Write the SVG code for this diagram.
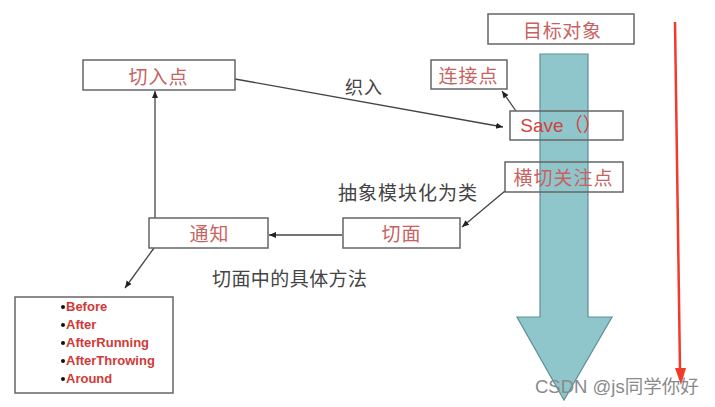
<svg xmlns="http://www.w3.org/2000/svg" width="715" height="407" viewBox="0 0 715 407">
<style>
.box{fill:none;stroke:#666;stroke-width:1.5}
.lbl{font-family:"Noto Sans CJK SC","Liberation Sans",sans-serif;font-size:19px;fill:#c8625e;text-anchor:middle;dominant-baseline:central}
.note{font-family:"Noto Sans CJK SC","Liberation Sans",sans-serif;font-size:19px;fill:#444;dominant-baseline:central}
.item{font-family:"Liberation Sans",Arial,sans-serif;font-size:13px;font-weight:bold;fill:#d03a36}
.conn{fill:none;stroke:#444;stroke-width:1.3}
</style>
<defs>
<marker id="ah" markerWidth="8" markerHeight="8" refX="7" refY="4" orient="auto" markerUnits="userSpaceOnUse">
<path d="M0,1 L7,4 L0,7 z" fill="#222"/>
</marker>
</defs>
<rect width="715" height="407" fill="#fff"/>

<g id="bigarrow">
<path d="M540,54 L588,54 L588,317 L612,317 L564,400 L517,317 L540,317 Z" fill="#8fc6cc" stroke="#5f8f94" stroke-width="1.2"/>
</g>

<g id="redarrow">
<line x1="675" y1="22" x2="680" y2="370" stroke="#f23a2a" stroke-width="2.5"/>
<path d="M675,368 L681,385 L686,368 Z" fill="#f23a2a"/>
</g>

<g id="connectors">
<line class="conn" x1="155" y1="218" x2="155" y2="91" marker-end="url(#ah)"/>
<line class="conn" x1="235" y1="79" x2="503" y2="127" marker-end="url(#ah)"/>
<line class="conn" x1="516" y1="111" x2="502" y2="91" marker-end="url(#ah)"/>
<line class="conn" x1="505" y1="191" x2="462" y2="227" marker-end="url(#ah)"/>
<line class="conn" x1="342" y1="235" x2="269" y2="235" marker-end="url(#ah)"/>
<line class="conn" x1="154" y1="248" x2="125" y2="288" marker-end="url(#ah)"/>
</g>

<g id="target">
<rect class="box" x="488" y="14" width="146" height="30"/>
<text class="lbl" x="562" y="29" textLength="78">目标对象</text>
</g>
<g id="joinpoint">
<rect class="box" x="431" y="60" width="76" height="29"/>
<text class="lbl" x="468" y="74" textLength="59">连接点</text>
</g>
<g id="pointcut">
<rect class="box" x="83" y="60" width="152" height="30"/>
<text class="lbl" x="158" y="75" textLength="59">切入点</text>
</g>
<g id="save">
<rect class="box" x="510" y="111" width="113" height="29"/>
<text class="lbl" x="561" y="125" style="font-family:'Liberation Sans','Noto Sans CJK SC',sans-serif;font-size:19px;fill:#d0433e">Save（）</text>
</g>
<g id="concern">
<rect class="box" x="505" y="162" width="118" height="30"/>
<text class="lbl" x="563" y="176" textLength="99">横切关注点</text>
</g>
<g id="aspect">
<rect class="box" x="343" y="218" width="117" height="30"/>
<text class="lbl" x="401" y="232" textLength="39">切面</text>
</g>
<g id="advice">
<rect class="box" x="149" y="218" width="119" height="30"/>
<text class="lbl" x="209" y="232" textLength="39">通知</text>
</g>
<g id="advicelist">
<rect class="box" x="15" y="297" width="158" height="96"/>
<g fill="#111">
<circle cx="63" cy="307" r="2"/><circle cx="63" cy="325" r="2"/><circle cx="63" cy="343" r="2"/><circle cx="63" cy="361" r="2"/><circle cx="63" cy="379" r="2"/>
</g>
<text class="item" x="66" y="311">Before</text>
<text class="item" x="66" y="329">After</text>
<text class="item" x="66" y="347">AfterRunning</text>
<text class="item" x="66" y="365">AfterThrowing</text>
<text class="item" x="66" y="383">Around</text>
</g>

<g id="labels">
<text class="note" x="345" y="86" style="font-size:18px" textLength="37">织入</text>
<text class="note" x="338" y="191" textLength="139">抽象模块化为类</text>
<text class="note" x="212" y="277" textLength="155">切面中的具体方法</text>
</g>

<text x="535" y="393" style="font-family:'Liberation Sans','Noto Sans CJK SC',sans-serif;font-size:18.5px;fill:#8a8a8a">CSDN @js同学你好</text>
</svg>
